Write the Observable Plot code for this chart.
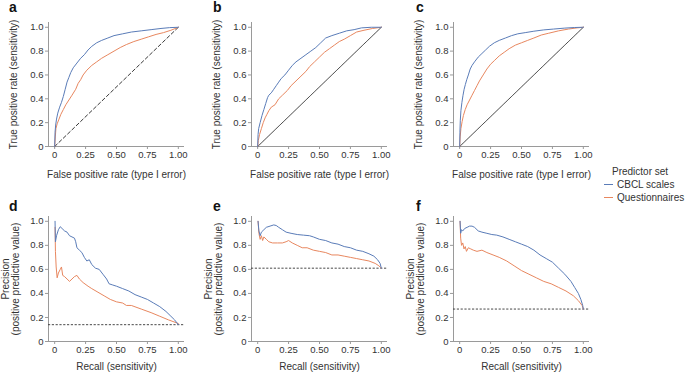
<!DOCTYPE html>
<html><head><meta charset="utf-8">
<script src="https://cdn.jsdelivr.net/npm/d3@7"></script>
<script src="https://cdn.jsdelivr.net/npm/@observablehq/plot@0.6"></script>
<style>
body{margin:0;background:#fff;}
#root{position:relative;width:685px;height:372px;overflow:hidden;font-family:"Liberation Sans",Arial,sans-serif;}
.panel{position:absolute;}
.panel svg{overflow:visible;}
.panel g[aria-label="x-axis label"], .panel g[aria-label="y-axis label"]{font-size:10px;}
#overlay{position:absolute;left:0;top:0;pointer-events:none;}
</style></head>
<body><div id="root"></div>
<script>
// ---------- data ----------
const seriesNames = ["CBCL scales", "Questionnaires"];
const seriesColors = ["#5a7cb8", "#e8875f"];
const panelLetters = ["a", "b", "c", "d", "e", "f"];
const xTicks = [0, 0.25, 0.5, 0.75, 1];
const xTickLabels = ["0", "0.25", "0.50", "0.75", "1.00"];
const yTicks = [0, 0.2, 0.4, 0.6, 0.8, 1.0];
const yTickLabels = ["0", "0.2", "0.4", "0.6", "0.8", "1.0"];
const chanceLine = [0, 1];

// ROC curves: [false positive rate, true positive rate]
const rocA_CBCL = [[0,0],[0.003,0.12],[0.008,0.18],[0.015,0.23],[0.025,0.28],[0.04,0.33],[0.055,0.37],[0.07,0.42],[0.085,0.48],[0.1,0.54],[0.115,0.58],[0.13,0.62],[0.15,0.66],[0.18,0.7],[0.21,0.74],[0.24,0.77],[0.27,0.81],[0.3,0.84],[0.34,0.87],[0.38,0.89],[0.43,0.91],[0.48,0.93],[0.55,0.945],[0.62,0.96],[0.7,0.97],[0.78,0.98],[0.86,0.99],[0.93,0.997],[1,1]];
const rocA_Quest = [[0,0],[0.005,0.08],[0.01,0.15],[0.02,0.19],[0.035,0.23],[0.05,0.27],[0.07,0.31],[0.09,0.35],[0.115,0.39],[0.14,0.43],[0.17,0.48],[0.19,0.53],[0.21,0.56],[0.23,0.6],[0.26,0.64],[0.3,0.68],[0.34,0.71],[0.38,0.74],[0.43,0.77],[0.48,0.8],[0.53,0.83],[0.58,0.855],[0.64,0.88],[0.7,0.9],[0.76,0.92],[0.82,0.94],[0.88,0.955],[0.94,0.975],[1,1]];
const rocB_CBCL = [[0,0],[0.003,0.1],[0.008,0.15],[0.02,0.2],[0.035,0.26],[0.05,0.31],[0.065,0.36],[0.08,0.41],[0.09,0.43],[0.11,0.45],[0.13,0.48],[0.15,0.51],[0.17,0.54],[0.19,0.57],[0.22,0.6],[0.25,0.64],[0.28,0.68],[0.31,0.71],[0.35,0.74],[0.39,0.77],[0.43,0.8],[0.47,0.83],[0.51,0.87],[0.55,0.91],[0.6,0.93],[0.66,0.95],[0.72,0.97],[0.78,0.98],[0.84,0.995],[0.92,1],[1,1]];
const rocB_Quest = [[0,0],[0.005,0.05],[0.015,0.1],[0.03,0.15],[0.045,0.2],[0.06,0.24],[0.075,0.27],[0.09,0.3],[0.11,0.33],[0.14,0.35],[0.17,0.4],[0.2,0.43],[0.24,0.47],[0.27,0.51],[0.31,0.55],[0.35,0.59],[0.39,0.63],[0.42,0.67],[0.46,0.71],[0.5,0.75],[0.54,0.79],[0.58,0.82],[0.62,0.85],[0.66,0.88],[0.7,0.9],[0.75,0.93],[0.8,0.96],[0.86,0.975],[0.93,0.99],[1,1]];
const rocC_CBCL = [[0,0],[0.002,0.12],[0.005,0.22],[0.01,0.3],[0.018,0.37],[0.027,0.43],[0.036,0.48],[0.046,0.52],[0.057,0.56],[0.07,0.6],[0.085,0.65],[0.1,0.68],[0.12,0.71],[0.15,0.75],[0.18,0.78],[0.21,0.81],[0.24,0.84],[0.28,0.87],[0.32,0.89],[0.37,0.91],[0.42,0.93],[0.47,0.945],[0.53,0.955],[0.6,0.967],[0.68,0.978],[0.76,0.985],[0.85,0.993],[0.93,0.998],[1,1]];
const rocC_Quest = [[0,0],[0.004,0.08],[0.01,0.15],[0.02,0.21],[0.03,0.26],[0.045,0.31],[0.06,0.35],[0.08,0.39],[0.1,0.43],[0.12,0.47],[0.14,0.51],[0.16,0.55],[0.19,0.6],[0.22,0.65],[0.25,0.69],[0.28,0.72],[0.32,0.76],[0.36,0.79],[0.4,0.82],[0.45,0.85],[0.5,0.87],[0.55,0.89],[0.6,0.91],[0.66,0.935],[0.72,0.95],[0.8,0.97],[0.88,0.985],[0.95,0.995],[1,1]];

// Precision-recall curves: [recall, precision]
const prD_CBCL = [[0.003,1.0],[0.006,0.83],[0.015,0.88],[0.03,0.93],[0.045,0.955],[0.06,0.94],[0.08,0.92],[0.1,0.91],[0.12,0.88],[0.14,0.87],[0.16,0.86],[0.17,0.83],[0.18,0.78],[0.2,0.76],[0.22,0.74],[0.24,0.7],[0.26,0.67],[0.28,0.68],[0.3,0.64],[0.33,0.61],[0.36,0.6],[0.39,0.56],[0.42,0.52],[0.44,0.48],[0.47,0.47],[0.5,0.46],[0.55,0.44],[0.6,0.42],[0.65,0.39],[0.7,0.37],[0.75,0.35],[0.8,0.32],[0.85,0.29],[0.9,0.25],[0.94,0.21],[0.97,0.18],[1.0,0.14]];
const prD_Quest = [[0.003,0.95],[0.006,0.75],[0.012,0.62],[0.02,0.53],[0.03,0.57],[0.045,0.6],[0.055,0.62],[0.065,0.55],[0.08,0.54],[0.1,0.52],[0.12,0.5],[0.14,0.52],[0.16,0.54],[0.18,0.55],[0.2,0.52],[0.23,0.49],[0.27,0.46],[0.3,0.44],[0.35,0.41],[0.4,0.38],[0.45,0.35],[0.5,0.33],[0.55,0.32],[0.58,0.3],[0.62,0.3],[0.7,0.27],[0.78,0.24],[0.85,0.21],[0.92,0.18],[1.0,0.15]];
const prE_CBCL = [[0.003,1.0],[0.01,0.92],[0.02,0.88],[0.03,0.91],[0.05,0.93],[0.07,0.95],[0.1,0.96],[0.13,0.97],[0.15,0.965],[0.17,0.95],[0.2,0.93],[0.23,0.91],[0.27,0.9],[0.32,0.89],[0.37,0.885],[0.42,0.88],[0.45,0.87],[0.5,0.85],[0.55,0.84],[0.6,0.82],[0.65,0.81],[0.7,0.79],[0.75,0.78],[0.8,0.76],[0.85,0.75],[0.9,0.73],[0.94,0.71],[0.97,0.68],[0.99,0.65],[1.0,0.61]];
const prE_Quest = [[0.003,1.0],[0.01,0.9],[0.02,0.85],[0.03,0.88],[0.04,0.84],[0.05,0.87],[0.07,0.85],[0.09,0.83],[0.12,0.82],[0.16,0.82],[0.2,0.82],[0.23,0.83],[0.25,0.84],[0.28,0.82],[0.32,0.8],[0.36,0.78],[0.4,0.78],[0.45,0.76],[0.5,0.75],[0.55,0.74],[0.6,0.72],[0.65,0.72],[0.7,0.71],[0.75,0.7],[0.8,0.69],[0.85,0.68],[0.9,0.67],[0.95,0.65],[0.98,0.63],[1.0,0.61]];
const prF_CBCL = [[0.003,1.0],[0.008,0.9],[0.015,0.93],[0.025,0.92],[0.04,0.94],[0.06,0.95],[0.08,0.96],[0.1,0.96],[0.12,0.95],[0.15,0.92],[0.18,0.91],[0.22,0.9],[0.26,0.89],[0.3,0.885],[0.35,0.87],[0.4,0.85],[0.45,0.83],[0.5,0.81],[0.55,0.79],[0.6,0.76],[0.65,0.72],[0.7,0.69],[0.75,0.66],[0.8,0.61],[0.85,0.56],[0.9,0.5],[0.93,0.45],[0.96,0.4],[0.98,0.35],[0.995,0.3],[1.0,0.27]];
const prF_Quest = [[0.003,1.0],[0.008,0.86],[0.015,0.8],[0.025,0.82],[0.035,0.77],[0.045,0.79],[0.055,0.75],[0.07,0.78],[0.09,0.77],[0.11,0.76],[0.14,0.75],[0.18,0.76],[0.22,0.74],[0.27,0.72],[0.32,0.7],[0.38,0.67],[0.44,0.63],[0.5,0.59],[0.56,0.56],[0.62,0.53],[0.68,0.5],[0.74,0.48],[0.8,0.45],[0.86,0.42],[0.92,0.38],[0.96,0.34],[0.99,0.3],[1.0,0.27]];

// Baseline precision (prevalence) for PR panels
const prevalence = [0.14, 0.61, 0.27];

const rocLabelX = "False positive rate (type I error)";
const rocLabelY = "True positive rate (sensitivity)";
const prLabelX = "Recall (sensitivity)";
const prLabelY = "Precision\n(positive predictive value)";

// ---------- drawing ----------
const root = document.getElementById("root");
const AXIS = "#9a9a9a", TEXT = "#333";
const colLeft = [0, 203, 405];

function panel({col, row, curves, chance, base}) {
  const top = row === 0 ? 0 : 190;
  const height = row === 0 ? 186 : 182;
  const mt = row === 0 ? 22 : 26;
  const mb = row === 0 ? 40 : 31;
  const isRoc = row === 0;
  const marks = [
    Plot.ruleY([0], {stroke: AXIS, strokeWidth: 1}),
    Plot.ruleX([-0.05], {stroke: AXIS, strokeWidth: 1}),
    Plot.axisX({ticks: xTicks, tickFormat: (d) => xTickLabels[xTicks.indexOf(d)], tickSize: 3, tickPadding: 2,
      stroke: AXIS, fill: TEXT, label: isRoc ? rocLabelX : prLabelX, labelAnchor: "center", labelArrow: false, labelOffset: isRoc ? 31 : 28}),
    Plot.axisY({ticks: yTicks, tickFormat: (d) => yTickLabels[yTicks.indexOf(d)], tickSize: 3, tickPadding: 2,
      stroke: AXIS, fill: TEXT, label: isRoc ? rocLabelY : prLabelY, labelAnchor: "center", labelArrow: false, labelOffset: isRoc ? 39 : 47})
  ];
  if (chance) marks.push(Plot.line(chanceLine, {x: (d) => d, y: (d) => d, stroke: "#222", strokeWidth: chance.w, strokeDasharray: chance.dash}));
  if (base != null) marks.push(Plot.ruleY([base], {stroke: "#333", strokeWidth: 0.9, strokeDasharray: "2.2,1.6"}));
  curves.slice().reverse().forEach((c, i) => {
    const idx = curves.length - 1 - i;
    marks.push(Plot.line(c, {x: (d) => d[0], y: (d) => d[1], stroke: seriesColors[idx], strokeWidth: 1}));
  });
  const chart = Plot.plot({
    width: 200, height,
    marginLeft: 48, marginRight: 16, marginTop: mt, marginBottom: mb,
    x: {domain: [-0.05, 1.05]},
    y: {domain: [0, 1.04]},
    style: {fontFamily: '"Liberation Sans", Arial, sans-serif', fontSize: "9.5px", color: TEXT, background: "transparent"},
    marks
  });
  const div = document.createElement("div");
  div.className = "panel";
  div.style.left = colLeft[col] + "px";
  div.style.top = top + "px";
  div.appendChild(chart);
  root.appendChild(div);
}

panel({col: 0, row: 0, curves: [rocA_CBCL, rocA_Quest], chance: {dash: "3.5,2.5", w: 0.9}});
panel({col: 1, row: 0, curves: [rocB_CBCL, rocB_Quest], chance: {dash: "1.2,0.6", w: 0.8}});
panel({col: 2, row: 0, curves: [rocC_CBCL, rocC_Quest], chance: {dash: "1.2,0.6", w: 0.8}});
panel({col: 0, row: 1, curves: [prD_CBCL, prD_Quest], base: prevalence[0]});
panel({col: 1, row: 1, curves: [prE_CBCL, prE_Quest], base: prevalence[1]});
panel({col: 2, row: 1, curves: [prF_CBCL, prF_Quest], base: prevalence[2]});

// overlay: panel letters and legend
const ns = "http://www.w3.org/2000/svg";
const ov = document.createElementNS(ns, "svg");
ov.setAttribute("id", "overlay");
ov.setAttribute("width", 685); ov.setAttribute("height", 372);
root.appendChild(ov);
function txt(x, y, s, attrs) {
  const t = document.createElementNS(ns, "text");
  t.setAttribute("x", x); t.setAttribute("y", y); t.textContent = s;
  for (const k in attrs) t.setAttribute(k, attrs[k]);
  ov.appendChild(t); return t;
}
const letterX = [9, 213, 416], letterY = [12, 211];
panelLetters.forEach((l, i) => txt(letterX[i % 3], letterY[Math.floor(i / 3)], l,
  {"font-size": 14, "font-weight": "bold", "font-family": '"Liberation Sans", Arial, sans-serif', fill: "#111"}));
txt(612, 175, "Predictor set", {"font-size": 10, "font-family": '"Liberation Sans", Arial, sans-serif', fill: TEXT});
seriesNames.forEach((n, i) => {
  const y = 188 + i * 13;
  const ln = document.createElementNS(ns, "line");
  ln.setAttribute("x1", 604); ln.setAttribute("x2", 613);
  ln.setAttribute("y1", y - 3.5); ln.setAttribute("y2", y - 3.5);
  ln.setAttribute("stroke", seriesColors[i]); ln.setAttribute("stroke-width", 1);
  ov.appendChild(ln);
  txt(617, y, n, {"font-size": 10, "font-family": '"Liberation Sans", Arial, sans-serif', fill: TEXT});
});
</script></body></html>
